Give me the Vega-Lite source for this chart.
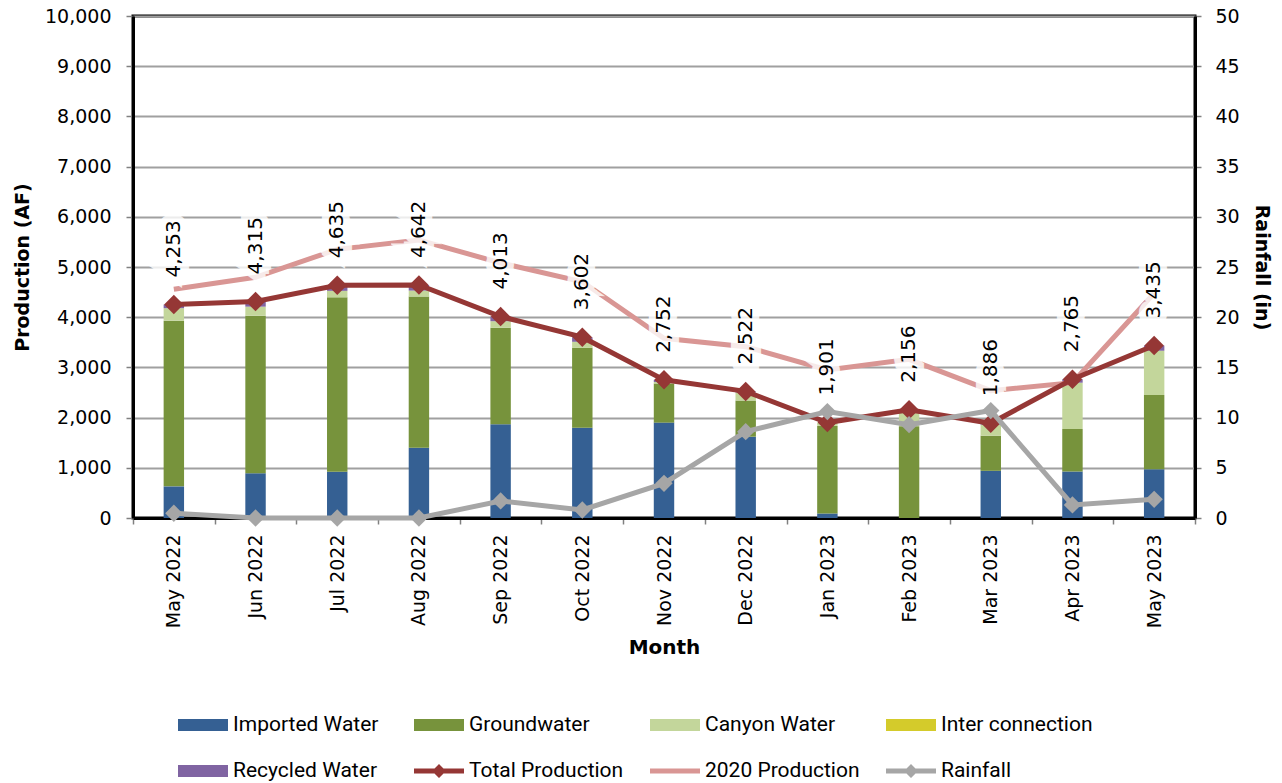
{
  "$schema": "https://vega.github.io/schema/vega-lite/v6.json",
  "width": 1062,
  "height": 502,
  "autosize": {"type": "none"},
  "padding": {"left": 133, "top": 16, "right": 87, "bottom": 265},
  "background": "white",
  "config": {
    "view": {"stroke": "#000", "strokeWidth": 3},
    "font": "DejaVu Sans"
  },
  "datasets": {
    "bars": [
      {"month": "May 2022", "series": "Imported Water", "k": 1, "value": 630},
      {"month": "May 2022", "series": "Groundwater", "k": 2, "value": 3300},
      {"month": "May 2022", "series": "Canyon Water", "k": 3, "value": 250},
      {"month": "May 2022", "series": "Recycled Water", "k": 5, "value": 73},
      {"month": "Jun 2022", "series": "Imported Water", "k": 1, "value": 890},
      {"month": "Jun 2022", "series": "Groundwater", "k": 2, "value": 3140},
      {"month": "Jun 2022", "series": "Canyon Water", "k": 3, "value": 180},
      {"month": "Jun 2022", "series": "Recycled Water", "k": 5, "value": 105},
      {"month": "Jul 2022", "series": "Imported Water", "k": 1, "value": 920},
      {"month": "Jul 2022", "series": "Groundwater", "k": 2, "value": 3475},
      {"month": "Jul 2022", "series": "Canyon Water", "k": 3, "value": 130},
      {"month": "Jul 2022", "series": "Recycled Water", "k": 5, "value": 110},
      {"month": "Aug 2022", "series": "Imported Water", "k": 1, "value": 1400},
      {"month": "Aug 2022", "series": "Groundwater", "k": 2, "value": 3010},
      {"month": "Aug 2022", "series": "Canyon Water", "k": 3, "value": 120},
      {"month": "Aug 2022", "series": "Recycled Water", "k": 5, "value": 112},
      {"month": "Sep 2022", "series": "Imported Water", "k": 1, "value": 1870},
      {"month": "Sep 2022", "series": "Groundwater", "k": 2, "value": 1920},
      {"month": "Sep 2022", "series": "Canyon Water", "k": 3, "value": 130},
      {"month": "Sep 2022", "series": "Recycled Water", "k": 5, "value": 93},
      {"month": "Oct 2022", "series": "Imported Water", "k": 1, "value": 1800},
      {"month": "Oct 2022", "series": "Groundwater", "k": 2, "value": 1590},
      {"month": "Oct 2022", "series": "Canyon Water", "k": 3, "value": 120},
      {"month": "Oct 2022", "series": "Recycled Water", "k": 5, "value": 92},
      {"month": "Nov 2022", "series": "Imported Water", "k": 1, "value": 1900},
      {"month": "Nov 2022", "series": "Groundwater", "k": 2, "value": 780},
      {"month": "Nov 2022", "series": "Canyon Water", "k": 3, "value": 30},
      {"month": "Nov 2022", "series": "Recycled Water", "k": 5, "value": 42},
      {"month": "Dec 2022", "series": "Imported Water", "k": 1, "value": 1620},
      {"month": "Dec 2022", "series": "Groundwater", "k": 2, "value": 720},
      {"month": "Dec 2022", "series": "Canyon Water", "k": 3, "value": 160},
      {"month": "Dec 2022", "series": "Recycled Water", "k": 5, "value": 22},
      {"month": "Jan 2023", "series": "Imported Water", "k": 1, "value": 90},
      {"month": "Jan 2023", "series": "Groundwater", "k": 2, "value": 1745},
      {"month": "Jan 2023", "series": "Canyon Water", "k": 3, "value": 66},
      {"month": "Feb 2023", "series": "Groundwater", "k": 2, "value": 1830},
      {"month": "Feb 2023", "series": "Canyon Water", "k": 3, "value": 326},
      {"month": "Mar 2023", "series": "Imported Water", "k": 1, "value": 940},
      {"month": "Mar 2023", "series": "Groundwater", "k": 2, "value": 700},
      {"month": "Mar 2023", "series": "Canyon Water", "k": 3, "value": 220},
      {"month": "Mar 2023", "series": "Recycled Water", "k": 5, "value": 26},
      {"month": "Apr 2023", "series": "Imported Water", "k": 1, "value": 925},
      {"month": "Apr 2023", "series": "Groundwater", "k": 2, "value": 850},
      {"month": "Apr 2023", "series": "Canyon Water", "k": 3, "value": 920},
      {"month": "Apr 2023", "series": "Recycled Water", "k": 5, "value": 70},
      {"month": "May 2023", "series": "Imported Water", "k": 1, "value": 970},
      {"month": "May 2023", "series": "Groundwater", "k": 2, "value": 1480},
      {"month": "May 2023", "series": "Canyon Water", "k": 3, "value": 880},
      {"month": "May 2023", "series": "Recycled Water", "k": 5, "value": 105}
    ],
    "lines": [
      {"month": "May 2022", "total": 4253, "p2020": 4556, "rain": 0.47},
      {"month": "Jun 2022", "total": 4315, "p2020": 4795, "rain": 0},
      {"month": "Jul 2022", "total": 4635, "p2020": 5352, "rain": 0},
      {"month": "Aug 2022", "total": 4642, "p2020": 5538, "rain": 0},
      {"month": "Sep 2022", "total": 4013, "p2020": 5080, "rain": 1.7},
      {"month": "Oct 2022", "total": 3602, "p2020": 4707, "rain": 0.8},
      {"month": "Nov 2022", "total": 2752, "p2020": 3580, "rain": 3.45},
      {"month": "Dec 2022", "total": 2522, "p2020": 3413, "rain": 8.6},
      {"month": "Jan 2023", "total": 1901, "p2020": 2948, "rain": 10.6},
      {"month": "Feb 2023", "total": 2156, "p2020": 3161, "rain": 9.3},
      {"month": "Mar 2023", "total": 1886, "p2020": 2536, "rain": 10.7},
      {"month": "Apr 2023", "total": 2765, "p2020": 2695, "rain": 1.3},
      {"month": "May 2023", "total": 3435, "p2020": 4476, "rain": 1.86}
    ]
  },
  "encoding": {
    "x": {
      "field": "month",
      "type": "nominal",
      "sort": ["May 2022","Jun 2022","Jul 2022","Aug 2022","Sep 2022","Oct 2022","Nov 2022","Dec 2022","Jan 2023","Feb 2023","Mar 2023","Apr 2023","May 2023"],
      "scale": {"paddingInner": 0, "paddingOuter": 0},
      "axis": {
        "title": "Month",
        "titleFont": "DejaVu Sans",
        "titleFontSize": 20,
        "titleFontWeight": "bold",
        "titleColor": "#000",
        "titlePadding": 10,
        "labelAngle": -90,
        "labelAlign": "right",
        "labelBaseline": "middle",
        "labelFontSize": 19,
        "labelColor": "#000",
        "labelPadding": 10,
        "tickBand": "extent",
        "tickSize": 6,
        "tickColor": "#808080",
        "tickWidth": 1.5,
        "domainColor": "#000",
        "domainWidth": 3,
        "grid": false
      }
    }
  },
  "layer": [
    {
      "layer": [
        {
          "data": {"name": "bars"},
          "mark": {"type": "bar", "width": {"band": 0.25}},
          "encoding": {
            "y": {
              "field": "value",
              "type": "quantitative",
              "stack": "zero",
              "scale": {"domain": [0, 10000], "nice": false},
              "axis": {
                "title": "Production (AF)",
                "titleFont": "DejaVu Sans",
                "titleFontSize": 19,
                "titleFontWeight": "bold",
                "titleColor": "#000",
                "titlePadding": 12,
                "values": [0,1000,2000,3000,4000,5000,6000,7000,8000,9000,10000],
                "labelExpr": "format(datum.value, ',')",
                "labelFontSize": 19,
                "labelColor": "#000",
                "labelPadding": 15,
                "tickSize": 7,
                "tickColor": "#808080",
                "tickWidth": 1.5,
                "domainColor": "#000",
                "domainWidth": 3,
                "grid": true,
                "gridColor": "#a0a0a0",
                "gridWidth": 2
              }
            },
            "color": {
              "field": "series",
              "type": "nominal",
              "scale": {
                "domain": ["Imported Water","Groundwater","Canyon Water","Inter connection","Recycled Water","Total Production","2020 Production","Rainfall"],
                "range": ["#356093","#77933C","#C3D69B","#D4CB2B","#8064A2","#953735","#D99694","#A6A6A6"]
              },
              "legend": {
                "orient": "none",
                "legendX": 45,
                "legendY": 684,
                "direction": "horizontal",
                "columns": 4,
                "title": null,
                "labelFont": "Roboto",
                "labelFontSize": 21,
                "labelColor": "#000",
                "labelOffset": 5,
                "symbolSize": 2500,
                "gridAlign": "all",
                "columnPadding": 26,
                "rowPadding": 11,
                "labelLimit": 300,
                "encode": {
                  "symbols": {
                    "update": {
                      "shape": {"signal": "datum.value === 'Total Production' || datum.value === 'Rainfall' ? 'M-1,-0.1H1V0.1H-1Z M0,-0.28L0.28,0L0,0.28L-0.28,0Z' : (datum.value === '2020 Production' ? 'M-1,-0.1H1V0.1H-1Z' : 'M-1,-0.24H1V0.24H-1Z')"},
                      "size": {"value": 2500},
                      "fill": {"signal": "scale('color', datum.value)"},
                      "fillOpacity": {"value": 1},
                      "strokeWidth": {"value": 0},
                      "opacity": {"value": 1}
                    }
                  }
                }
              }
            },
            "order": {"field": "k", "type": "quantitative"}
          }
        },
        {
          "data": {"name": "lines"},
          "mark": {"type": "line", "strokeWidth": 5},
          "encoding": {
            "y": {"field": "p2020", "type": "quantitative"},
            "color": {"datum": "2020 Production"}
          }
        },
        {
          "data": {"name": "lines"},
          "mark": {"type": "line", "strokeWidth": 5},
          "encoding": {
            "y": {"field": "total", "type": "quantitative"},
            "color": {"datum": "Total Production"}
          }
        },
        {
          "data": {"name": "lines"},
          "mark": {"type": "point", "shape": "diamond", "filled": true, "size": 380, "opacity": 1},
          "encoding": {
            "y": {"field": "total", "type": "quantitative"},
            "color": {"datum": "Total Production"}
          }
        }
      ]
    },
    {
      "data": {"name": "lines"},
      "layer": [
        {
          "mark": {"type": "line", "strokeWidth": 5},
          "encoding": {
            "y": {
              "field": "rain",
              "type": "quantitative",
              "scale": {"domain": [0, 50], "nice": false},
              "axis": {
                "orient": "right",
                "title": "Rainfall (in)",
                "titleFont": "DejaVu Sans",
                "titleFontSize": 19,
                "titleFontWeight": "bold",
                "titleColor": "#000",
                "titlePadding": 12,
                "values": [0,5,10,15,20,25,30,35,40,45,50],
                "labelFontSize": 19,
                "labelColor": "#000",
                "labelPadding": 14,
                "tickSize": 6,
                "tickColor": "#808080",
                "tickWidth": 1.5,
                "domainColor": "#000",
                "domainWidth": 3,
                "grid": false
              }
            },
            "color": {"datum": "Rainfall"}
          }
        },
        {
          "mark": {"type": "point", "shape": "diamond", "filled": true, "size": 300, "opacity": 1},
          "encoding": {
            "y": {"field": "rain", "type": "quantitative"},
            "color": {"datum": "Rainfall"}
          }
        }
      ]
    },
    {
      "data": {"name": "lines"},
      "encoding": {
        "y": {"field": "total", "type": "quantitative", "scale": {"domain": [0, 10000], "nice": false}, "axis": null},
        "text": {"field": "total", "type": "quantitative", "format": ","}
      },
      "layer": [
        {
          "mark": {"type": "text", "angle": 270, "align": "left", "baseline": "middle", "dx": 27, "fontSize": 20, "font": "DejaVu Sans", "color": "white", "stroke": "white", "strokeWidth": 14, "strokeJoin": "miter", "opacity": 0.8}
        },
        {
          "mark": {"type": "text", "angle": 270, "align": "left", "baseline": "middle", "dx": 27, "fontSize": 20, "font": "DejaVu Sans", "color": "#000"}
        }
      ]
    }
  ],
  "resolve": {"scale": {"y": "independent"}}
}
